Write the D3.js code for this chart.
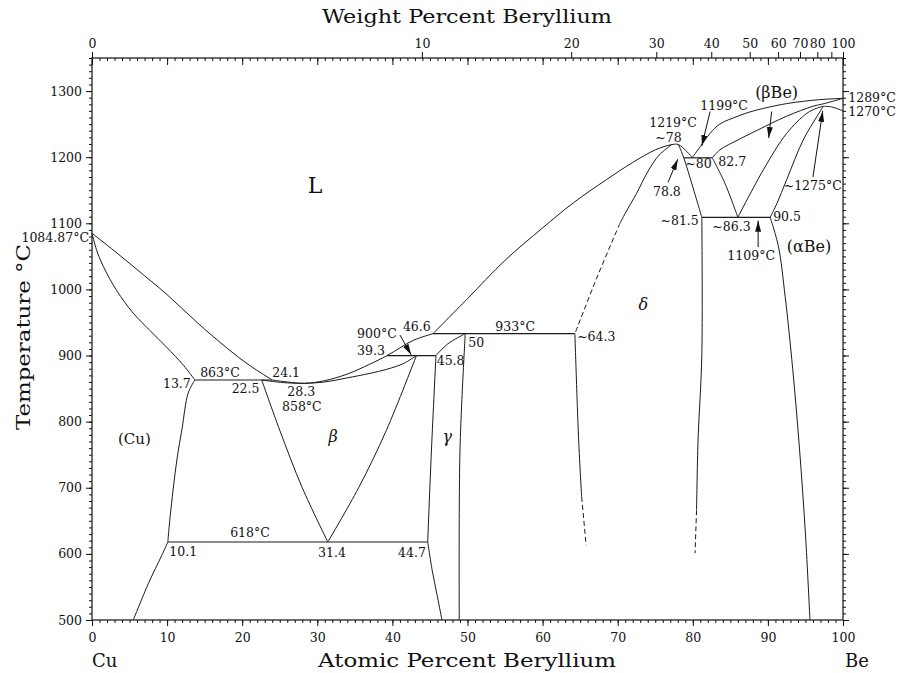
<!DOCTYPE html>
<html>
<head>
<meta charset="utf-8">
<script src="https://cdn.jsdelivr.net/npm/d3@7/dist/d3.min.js"></script>
<style>
body { margin: 0; background: #fff; }
text { fill: #111; }
</style>
</head>
<body>
<svg id="chart" width="898" height="673"></svg>
<script>
// Cu-Be phase diagram, points are [at.% Be, temperature °C]
const cuLiquidus = [[0,1084.87],[3,1058],[6,1030],[10,992],[14,950],[18,911],[21,885],[24.0,863]];
const cuSolidus = [[0,1084.87],[0.6,1060],[1.5,1035],[3.3,998],[5.5,964],[7.7,938],[9.9,913],[12.2,885],[13.7,863]];
const cuSolvusHigh = [[13.7,863],[12.8,843],[12.0,790],[11.3,742],[10.4,656],[10.1,618]];
const cuSolvusLow = [[10.1,618],[9.3,598],[7.5,555],[5.5,500]];

const betaLiquidus = [[24.0,863],[26,860],[28.3,858],[31,862],[34,872],[37,887],[39.3,900],[42.8,923],[45.4,933]];
const betaSolidus = [[22.6,863],[25.5,859],[28.3,858],[31,860],[33.9,866],[37,873],[39.2,879],[41.5,888],[43.2,900]];
const betaLeft = [[22.6,863],[25.0,787],[28,700],[31.4,618]];
const betaRight = [[43.2,900],[39.2,787],[35.5,700],[31.4,618]];

const gammaTop = [[45.8,900],[47.3,917],[48.7,927],[49.7,933]];
const gammaLeft = [[45.8,900],[45.2,757],[44.7,618]];
const gammaLeftLow = [[44.7,618],[45.3,575],[46.0,535],[46.6,500]];
const gammaRight = [[49.7,933],[49.0,757],[48.9,500]];

const deltaLiquidus = [[45.4,933],[50,986],[55,1044],[60,1093],[64.1,1131],[68.5,1166],[72,1192],[75,1211],[77.2,1219],[78.1,1219],[79.9,1200]];
const deltaSolidus = [[77.2,1219],[75.5,1203],[74,1178],[72.5,1145],[71,1115],[70.3,1100]];
const deltaSolidusDash = [[70.3,1100],[67.2,1017],[64.3,933]];
const deltaRightTop = [[78.1,1219],[78.8,1199],[80,1155],[81.2,1109]];
const deltaRight = [[81.2,1109],[81.2,900],[80.7,772],[80.5,666]];
const deltaRightDash = [[80.5,666],[80.3,601]];
const deltaLeft = [[64.3,933],[64.8,772],[65.2,686]];
const deltaLeftDash = [[65.2,686],[65.8,613]];

const beLiquidus = [[79.9,1199],[81,1216],[82.3,1236],[83.6,1250],[86,1262],[88.1,1270],[92.5,1281],[96.9,1287],[100,1289]];
const beSolidus = [[82.6,1199],[83.6,1211],[86,1226],[88.1,1238],[92.5,1262],[96,1277],[97.5,1281],[100,1289]];
const betaBeLow = [[82.6,1199],[84.3,1160],[86.0,1109]];
const betaBeRight = [[86.0,1109],[89.4,1181],[92.5,1236],[95.2,1266.5],[96.5,1274],[97.4,1277]];
const alphaBeTop = [[90.3,1109],[91.2,1130],[92.5,1166],[94.7,1226],[96.5,1261],[97.4,1277]];
const beTransition = [[97.4,1277],[98.5,1276],[100,1270]];
const alphaBeSolvus = [[90.3,1109],[91.4,1065],[92.3,989],[93.3,880],[94.2,760],[95,630],[95.6,500]];

// invariant lines: [temperature, from at.%, to at.%]
const isotherms = [[863,13.7,24.0],[618,10.1,44.7],[900,39.3,45.8],[933,45.4,64.3],[1199,78.8,82.6],[1109,81.2,90.3]];

// arrows: [from, to]
const arrows = [
  [[41.0,931],[42.5,901]],
  [[76.7,1162],[78.0,1197]],
  [[82.3,1269],[81.2,1217]],
  [[90.5,1269],[90.1,1229]],
  [[88.7,1064],[88.7,1104]],
  [[96.0,1170],[97.3,1270]]
];

// numeric annotations: [text, at.%, °C, anchor]
const numLabels = [
  ["1084.87°C",-0.4,1071,"end"],
  ["13.7",9.45,851,"start"],
  ["863°C",14.4,867.6,"start"],
  ["24.1",24.0,867.6,"start"],
  ["22.5",18.6,843.4,"start"],
  ["28.3",26.0,838.9,"start"],
  ["858°C",25.3,816.2,"start"],
  ["900°C",35.3,926.6,"start"],
  ["39.3",35.3,900.9,"start"],
  ["46.6",41.4,937.2,"start"],
  ["45.8",45.9,885.8,"start"],
  ["50",50.1,913,"start"],
  ["933°C",53.7,937.2,"start"],
  ["~64.3",64.6,922.1,"start"],
  ["10.1",10.3,596.8,"start"],
  ["618°C",18.4,625.6,"start"],
  ["31.4",30.1,595.3,"start"],
  ["44.7",40.75,595.3,"start"],
  ["1219°C",74.2,1245.5,"start"],
  ["~78",75.0,1223,"start"],
  ["78.8",74.7,1141.5,"start"],
  ["~81.5",80.8,1097.6,"end"],
  ["1199°C",81.0,1271.6,"start"],
  ["~80",79.0,1183.8,"start"],
  ["82.7",83.4,1186.8,"start"],
  ["~86.3",82.6,1088.5,"start"],
  ["1109°C",84.6,1044.6,"start"],
  ["90.5",90.7,1103.6,"start"],
  ["~1275°C",92.1,1150.5,"start"],
  ["1289°C",100.7,1283.7,"start"],
  ["1270°C",100.7,1262.5,"start"]
];

// phase names: [text, at.%, °C, size, italic]
const phaseLabels = [
  ["L",29.7,1146,22,false],
  ["(Cu)",3.46,766.3,15,false],
  ["β",32.1,769.3,16,true],
  ["γ",47.3,769.3,16,true],
  ["δ",73.4,969,16,true],
  ["(αBe)",92.5,1056.7,16,false],
  ["(βBe)",88.3,1289.7,16,false]
];

const tempTicks = [500,600,700,800,900,1000,1100,1200,1300];
const atTicks = [0,10,20,30,40,50,60,70,80,90,100];
const wtTicks = [0,10,20,30,40,50,60,70,80,90,100];
const wtLabelled = [0,10,20,30,40,50,60,70,80,100];

const svg = d3.select("#chart");
const serif = "DejaVu Serif, Liberation Serif, serif";

const x = d3.scaleLinear().domain([0,100]).range([92,843]);
const y = d3.scaleLinear().domain([500,1350]).range([620,58]);

// weight % -> atomic % (Cu 63.546, Be 9.012)
function wtToAt(w){
  if (w >= 100) return 100;
  const b = w/9.012, c = (100-w)/63.546;
  return 100*b/(b+c);
}

// frame
svg.append("rect")
  .attr("x", x(0)).attr("y", y(1350))
  .attr("width", x(100)-x(0)).attr("height", y(500)-y(1350))
  .attr("fill","none").attr("stroke","#111").attr("stroke-width",1.2);

function styleAxis(g){
  g.select(".domain").remove();
  g.selectAll("line").attr("stroke","#111");
  g.selectAll("text").attr("font-family",serif).attr("font-size",12.5).attr("fill","#111");
}

// left
svg.append("g").attr("transform",`translate(${x(0)},0)`)
  .call(d3.axisLeft(y).tickValues(d3.range(500,1351,10)).tickSize(3).tickFormat(""))
  .call(styleAxis);
svg.append("g").attr("transform",`translate(${x(0)},0)`)
  .call(d3.axisLeft(y).tickValues(tempTicks).tickSize(6).tickPadding(4).tickFormat(d3.format("d")))
  .call(styleAxis);
// right
svg.append("g").attr("transform",`translate(${x(100)},0)`)
  .call(d3.axisRight(y).tickValues(d3.range(500,1351,10)).tickSize(3).tickFormat(""))
  .call(styleAxis);
svg.append("g").attr("transform",`translate(${x(100)},0)`)
  .call(d3.axisRight(y).tickValues(tempTicks).tickSize(6).tickFormat(""))
  .call(styleAxis);
// bottom
svg.append("g").attr("transform",`translate(0,${y(500)})`)
  .call(d3.axisBottom(x).tickValues(d3.range(0,101,1)).tickSize(3).tickFormat(""))
  .call(styleAxis);
svg.append("g").attr("transform",`translate(0,${y(500)})`)
  .call(d3.axisBottom(x).tickValues(atTicks).tickSize(6).tickPadding(7).tickFormat(d3.format("d")))
  .call(styleAxis);
// top, atomic ticks pointing in
svg.append("g").attr("transform",`translate(0,${y(1350)})`)
  .call(d3.axisBottom(x).tickValues(d3.range(0,101,1)).tickSize(3).tickFormat(""))
  .call(styleAxis);
svg.append("g").attr("transform",`translate(0,${y(1350)})`)
  .call(d3.axisBottom(x).tickValues(atTicks).tickSize(7).tickFormat(""))
  .call(styleAxis);
// top, weight ticks pointing out
const wtPos = wtTicks.map(wtToAt);
svg.append("g").attr("transform",`translate(0,${y(1350)})`)
  .call(d3.axisTop(x).tickValues(wtPos).tickSize(6).tickPadding(4)
    .tickFormat((d,i) => wtLabelled.includes(wtTicks[i]) ? String(wtTicks[i]) : ""))
  .call(styleAxis);

// axis titles
svg.append("text").attr("x",322).attr("y",23)
  .attr("textLength",290).attr("lengthAdjust","spacingAndGlyphs")
  .attr("font-family",serif).attr("font-size",18)
  .text("Weight Percent Beryllium");
svg.append("text").attr("x",318).attr("y",667)
  .attr("textLength",298).attr("lengthAdjust","spacingAndGlyphs")
  .attr("font-family",serif).attr("font-size",18)
  .text("Atomic Percent Beryllium");
svg.append("text").attr("transform","translate(30,430) rotate(-90)")
  .attr("textLength",186).attr("lengthAdjust","spacingAndGlyphs")
  .attr("font-family",serif).attr("font-size",18)
  .text("Temperature °C");
svg.append("text").attr("x",x(0)).attr("y",667)
  .attr("font-family",serif).attr("font-size",18).text("Cu");
svg.append("text").attr("x",x(100)+2).attr("y",667)
  .attr("font-family",serif).attr("font-size",18).text("Be");

// boundaries
const line = d3.line().x(d => x(d[0])).y(d => y(d[1])).curve(d3.curveCatmullRom.alpha(0.5));
const solid = [cuLiquidus,cuSolidus,cuSolvusHigh,cuSolvusLow,betaLiquidus,betaSolidus,betaLeft,betaRight,
  gammaTop,gammaLeft,gammaLeftLow,gammaRight,deltaLiquidus,deltaSolidus,deltaRightTop,deltaRight,deltaLeft,
  beLiquidus,beSolidus,betaBeLow,betaBeRight,alphaBeTop,beTransition,alphaBeSolvus];
const dashed = [deltaSolidusDash,deltaRightDash,deltaLeftDash];

svg.append("g").selectAll("path").data(solid).enter().append("path")
  .attr("d", line).attr("fill","none").attr("stroke","#1a1a1a").attr("stroke-width",1);
svg.append("g").selectAll("path").data(dashed).enter().append("path")
  .attr("d", line).attr("fill","none").attr("stroke","#1a1a1a").attr("stroke-width",1)
  .attr("stroke-dasharray","5,3");

svg.append("g").selectAll("line").data(isotherms).enter().append("line")
  .attr("x1", d => x(d[1])).attr("x2", d => x(d[2]))
  .attr("y1", d => y(d[0])).attr("y2", d => y(d[0]))
  .attr("stroke","#1a1a1a").attr("stroke-width",1.2);

// arrows
svg.append("defs").append("marker")
  .attr("id","head").attr("markerUnits","userSpaceOnUse")
  .attr("markerWidth",12).attr("markerHeight",8)
  .attr("refX",11).attr("refY",3).attr("orient","auto")
  .append("path").attr("d","M0,0L11,3L0,6Z").attr("fill","#111");

svg.append("g").selectAll("line").data(arrows).enter().append("line")
  .attr("x1", d => x(d[0][0])).attr("y1", d => y(d[0][1]))
  .attr("x2", d => x(d[1][0])).attr("y2", d => y(d[1][1]))
  .attr("stroke","#111").attr("stroke-width",1)
  .attr("marker-end","url(#head)");

// labels
svg.append("g").selectAll("text").data(numLabels).enter().append("text")
  .attr("x", d => x(d[1])).attr("y", d => y(d[2]))
  .attr("text-anchor", d => d[3])
  .attr("font-family",serif).attr("font-size",12.5)
  .text(d => d[0]);

svg.append("g").selectAll("text").data(phaseLabels).enter().append("text")
  .attr("x", d => x(d[1])).attr("y", d => y(d[2]))
  .attr("text-anchor", d => d[0].length === 1 ? "middle" : "start")
  .attr("font-family",serif).attr("font-size", d => d[3])
  .attr("font-style", d => d[4] ? "italic" : "normal")
  .text(d => d[0]);
</script>
</body>
</html>
